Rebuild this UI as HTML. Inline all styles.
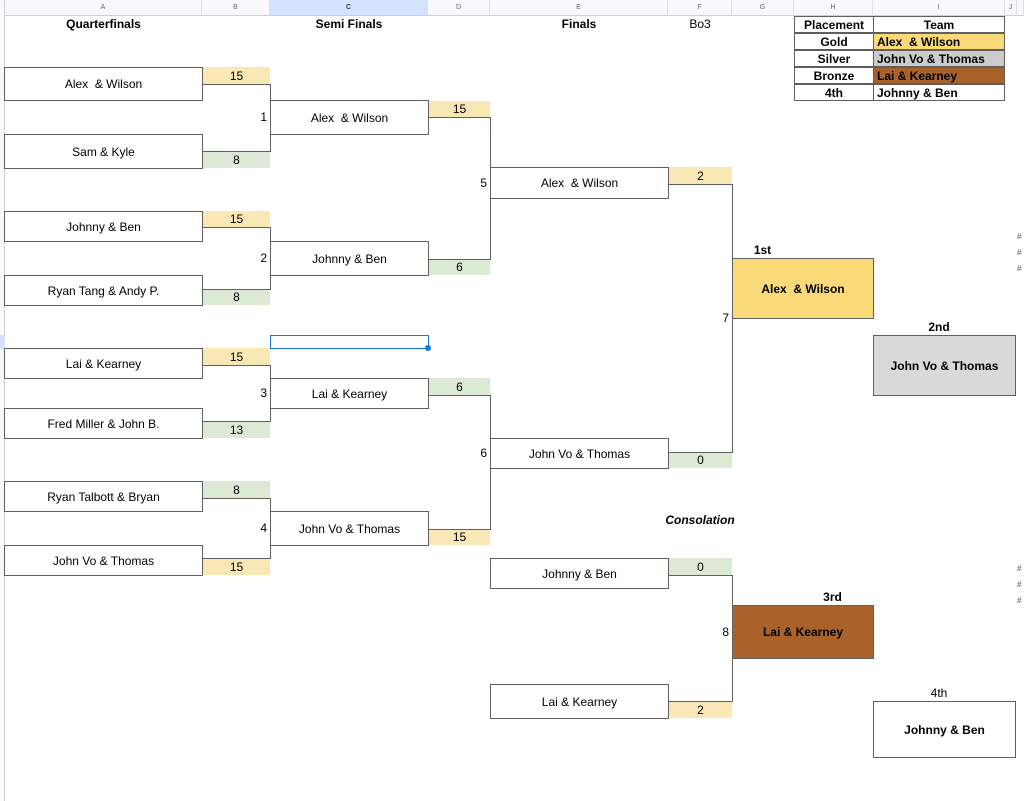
<!DOCTYPE html>
<html><head><meta charset="utf-8"><style>
*{margin:0;padding:0;box-sizing:border-box}
body{width:1024px;height:801px;position:relative;background:#fff;font-family:"Liberation Sans",Arial,sans-serif;font-size:12px;color:#000;overflow:hidden}
div{position:absolute}
.hd{top:0;height:16px;background:#f8f9fa;border-right:1px solid #e0e0e0;border-bottom:1px solid #d0d0d0;font-size:7px;color:#666;text-align:center;line-height:16px}
.b{border:1px solid #5f5f5f;background:#fff;display:flex;align-items:center;justify-content:center}
.s{display:flex;align-items:center;justify-content:center;font-size:12px}
.y{background:#f9e7b5}.g{background:#dce9d5}
.v{border-left:1px solid #5f5f5f;width:1px}
.h{border-top:1px solid #5f5f5f;height:1px}
.n{font-size:12px;text-align:right;width:10px}
.t{font-weight:bold;text-align:center}
.tc{border:1px solid #5f5f5f;display:flex;align-items:center;justify-content:center;font-weight:bold;font-size:12px;height:17px}
</style></head><body>
<div style="left:0;top:0;width:5px;height:801px;background:#f8f9fa;border-right:1px solid #d0d0d0"></div>
<div style="left:0;top:335px;width:5px;height:14px;background:#d3e3fd"></div>
<div class="hd" style="left:5px;width:197px">A</div>
<div class="hd" style="left:202px;width:68px">B</div>
<div class="hd" style="left:270px;width:158px;background:#d3e3fd;color:#1f3a6e;font-weight:bold">C</div>
<div class="hd" style="left:428px;width:62px">D</div>
<div class="hd" style="left:490px;width:178px">E</div>
<div class="hd" style="left:668px;width:64px">F</div>
<div class="hd" style="left:732px;width:62px">G</div>
<div class="hd" style="left:794px;width:79px">H</div>
<div class="hd" style="left:873px;width:132px">I</div>
<div class="hd" style="left:1005px;width:12px">J</div>
<div class="hd" style="left:1017px;width:7px"></div>

<div class="t" style="left:5px;top:17px;width:197px">Quarterfinals</div>
<div class="t" style="left:270px;top:17px;width:158px">Semi Finals</div>
<div class="t" style="left:490px;top:17px;width:178px">Finals</div>
<div style="left:668px;top:17px;width:64px;text-align:center">Bo3</div>

<!-- table -->
<div class="tc" style="left:794px;top:16px;width:80px">Placement</div>
<div class="tc" style="left:873px;top:16px;width:132px">Team</div>
<div class="tc" style="left:794px;top:33px;width:80px">Gold</div>
<div class="tc" style="left:873px;top:33px;width:132px;background:#f9d978;justify-content:flex-start;padding-left:3px">Alex &nbsp;&amp; Wilson</div>
<div class="tc" style="left:794px;top:50px;width:80px">Silver</div>
<div class="tc" style="left:873px;top:50px;width:132px;background:#cccccc;justify-content:flex-start;padding-left:3px">John Vo &amp; Thomas</div>
<div class="tc" style="left:794px;top:67px;width:80px">Bronze</div>
<div class="tc" style="left:873px;top:67px;width:132px;background:#a9622a;justify-content:flex-start;padding-left:3px">Lai &amp; Kearney</div>
<div class="tc" style="left:794px;top:84px;width:80px">4th</div>
<div class="tc" style="left:873px;top:84px;width:132px;justify-content:flex-start;padding-left:3px">Johnny &amp; Ben</div>

<!-- QF -->
<div class="b" style="left:4px;top:67px;width:199px;height:34px">Alex &nbsp;&amp; Wilson</div>
<div class="b" style="left:4px;top:134px;width:199px;height:35px">Sam &amp; Kyle</div>
<div class="s y" style="left:203px;top:67px;width:67px;height:17px">15</div>
<div class="s g" style="left:203px;top:151px;width:67px;height:17px">8</div>
<div class="h" style="left:202px;top:84px;width:69px"></div>
<div class="h" style="left:202px;top:151px;width:69px"></div>
<div class="v" style="left:270px;top:84px;height:68px"></div>
<div class="n" style="left:257px;top:110px">1</div>

<div class="b" style="left:4px;top:211px;width:199px;height:31px">Johnny &amp; Ben</div>
<div class="b" style="left:4px;top:275px;width:199px;height:31px">Ryan Tang &amp; Andy P.</div>
<div class="s y" style="left:203px;top:211px;width:67px;height:16px">15</div>
<div class="s g" style="left:203px;top:289px;width:67px;height:16px">8</div>
<div class="h" style="left:202px;top:227px;width:69px"></div>
<div class="h" style="left:202px;top:289px;width:69px"></div>
<div class="v" style="left:270px;top:227px;height:63px"></div>
<div class="n" style="left:257px;top:251px">2</div>

<div class="b" style="left:4px;top:348px;width:199px;height:31px">Lai &amp; Kearney</div>
<div class="b" style="left:4px;top:408px;width:199px;height:31px">Fred Miller &amp; John B.</div>
<div class="s y" style="left:203px;top:348px;width:67px;height:17px">15</div>
<div class="s g" style="left:203px;top:422px;width:67px;height:16px">13</div>
<div class="h" style="left:202px;top:365px;width:69px"></div>
<div class="h" style="left:202px;top:421px;width:69px"></div>
<div class="v" style="left:270px;top:365px;height:57px"></div>
<div class="n" style="left:257px;top:386px">3</div>

<div class="b" style="left:4px;top:481px;width:199px;height:31px">Ryan Talbott &amp; Bryan</div>
<div class="b" style="left:4px;top:545px;width:199px;height:31px">John Vo &amp; Thomas</div>
<div class="s g" style="left:203px;top:481px;width:67px;height:17px">8</div>
<div class="s y" style="left:203px;top:559px;width:67px;height:16px">15</div>
<div class="h" style="left:202px;top:498px;width:69px"></div>
<div class="h" style="left:202px;top:558px;width:69px"></div>
<div class="v" style="left:270px;top:498px;height:61px"></div>
<div class="n" style="left:257px;top:521px">4</div>

<!-- SF -->
<div class="b" style="left:270px;top:100px;width:159px;height:35px">Alex &nbsp;&amp; Wilson</div>
<div class="b" style="left:270px;top:241px;width:159px;height:35px">Johnny &amp; Ben</div>
<div class="b" style="left:270px;top:378px;width:159px;height:31px">Lai &amp; Kearney</div>
<div class="b" style="left:270px;top:511px;width:159px;height:35px">John Vo &amp; Thomas</div>
<div style="left:270px;top:335px;width:159px;height:14px;border:1px solid #1a73e8"></div>
<div style="left:425px;top:345px;width:6px;height:6px;border-radius:3px;background:#1a73e8"></div>
<div class="s y" style="left:429px;top:101px;width:61px;height:16px">15</div>
<div class="s g" style="left:429px;top:259px;width:61px;height:16px">6</div>
<div class="s g" style="left:429px;top:378px;width:61px;height:17px">6</div>
<div class="s y" style="left:429px;top:529px;width:61px;height:16px">15</div>
<div class="h" style="left:428px;top:117px;width:63px"></div>
<div class="h" style="left:428px;top:259px;width:63px"></div>
<div class="v" style="left:490px;top:117px;height:143px"></div>
<div class="n" style="left:477px;top:176px">5</div>
<div class="h" style="left:428px;top:395px;width:63px"></div>
<div class="h" style="left:428px;top:529px;width:63px"></div>
<div class="v" style="left:490px;top:395px;height:135px"></div>
<div class="n" style="left:477px;top:446px">6</div>

<!-- Finals -->
<div class="b" style="left:490px;top:167px;width:179px;height:32px">Alex &nbsp;&amp; Wilson</div>
<div class="b" style="left:490px;top:438px;width:179px;height:31px">John Vo &amp; Thomas</div>
<div class="s y" style="left:669px;top:167px;width:63px;height:17px">2</div>
<div class="s g" style="left:669px;top:452px;width:63px;height:16px">0</div>
<div class="h" style="left:668px;top:184px;width:65px"></div>
<div class="h" style="left:668px;top:452px;width:65px"></div>
<div class="v" style="left:732px;top:184px;height:269px"></div>
<div class="n" style="left:719px;top:311px">7</div>
<div class="t" style="left:740px;top:243px;width:45px">1st</div>
<div class="b" style="left:732px;top:258px;width:142px;height:61px;background:#f9d978;font-weight:bold">Alex &nbsp;&amp; Wilson</div>
<div class="t" style="left:873px;top:320px;width:132px">2nd</div>
<div class="b" style="left:873px;top:335px;width:143px;height:61px;background:#d9d9d9;font-weight:bold">John Vo &amp; Thomas</div>

<div style="left:640px;top:513px;width:120px;text-align:center;font-weight:bold;font-style:italic">Consolation</div>
<div class="b" style="left:490px;top:558px;width:179px;height:31px">Johnny &amp; Ben</div>
<div class="b" style="left:490px;top:684px;width:179px;height:35px">Lai &amp; Kearney</div>
<div class="s g" style="left:669px;top:558px;width:63px;height:17px">0</div>
<div class="s y" style="left:669px;top:701px;width:63px;height:17px">2</div>
<div class="h" style="left:668px;top:575px;width:65px"></div>
<div class="h" style="left:668px;top:701px;width:65px"></div>
<div class="v" style="left:732px;top:575px;height:127px"></div>
<div class="n" style="left:719px;top:625px">8</div>
<div class="t" style="left:810px;top:590px;width:45px">3rd</div>
<div class="b" style="left:732px;top:605px;width:142px;height:54px;background:#a9622a;font-weight:bold">Lai &amp; Kearney</div>
<div style="left:873px;top:686px;width:132px;text-align:center">4th</div>
<div class="b" style="left:873px;top:701px;width:143px;height:57px;font-weight:bold">Johnny &amp; Ben</div>

<div style="left:1017px;top:229px;font-size:8px;color:#555;line-height:16px">#<br>#<br>#</div>
<div style="left:1017px;top:561px;font-size:8px;color:#555;line-height:16px">#<br>#<br>#</div>
</body></html>
